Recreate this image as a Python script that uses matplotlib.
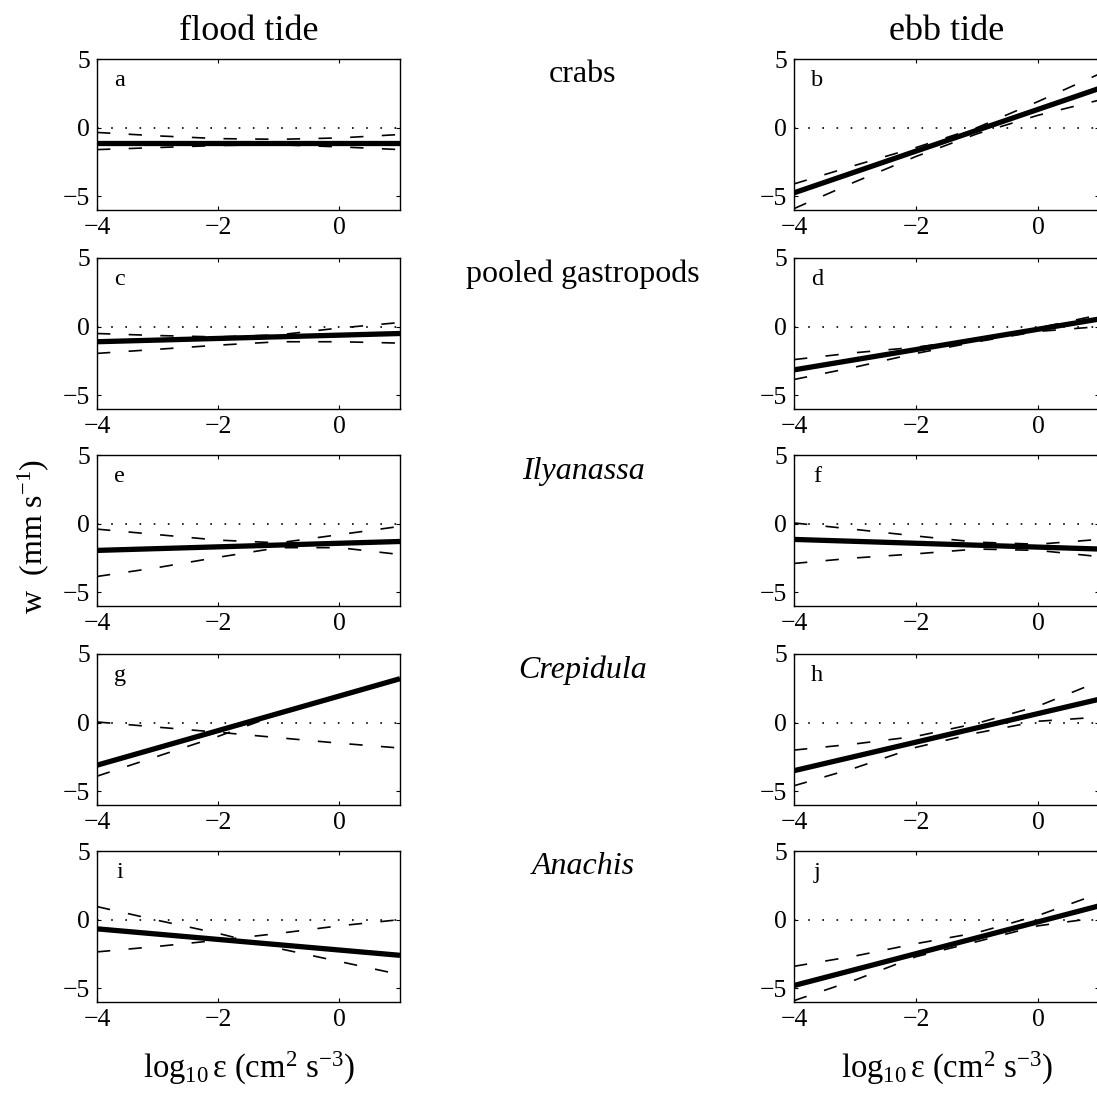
import matplotlib
matplotlib.use("Agg")
import matplotlib.pyplot as plt

plt.rcParams['font.family'] = ['Liberation Serif', 'DejaVu Serif']
plt.rcParams['mathtext.fontset'] = 'custom'
plt.rcParams['mathtext.rm'] = 'Liberation Serif'
plt.rcParams['mathtext.it'] = 'Liberation Serif:italic'

# ---------------- data ----------------
column_titles = ["flood tide", "ebb tide"]
species = ["crabs", "pooled gastropods", "Ilyanassa", "Crepidula", "Anachis"]
species_italic = [False, False, True, True, True]
letters_flood = ["a", "c", "e", "g", "i"]
letters_ebb = ["b", "d", "f", "h", "j"]

x_ends = [-4, 1]
x_band = [-4, -3, -2, -1, 0, 1]

# regression (solid) lines, value at x=-4 and x=1
fit_flood = [[-1.1, -1.1], [-1.1, -0.5], [-1.95, -1.3], [-3.1, 3.2], [-0.67, -2.6]]
fit_ebb = [[-4.75, 2.85], [-3.15, 0.55], [-1.15, -1.85], [-3.5, 1.7], [-4.8, 1.0]]

# dashed bounds, values at x_band
upper_flood = [
    [-0.35, -0.6, -0.8, -0.85, -0.75, -0.5],
    [-0.5, -0.65, -0.75, -0.6, -0.1, 0.3],
    [-0.4, -0.8, -1.2, -1.4, -0.8, -0.2],
    [0.05, -0.33, -0.7, -1.1, -1.5, -1.85],
    [0.95, -0.05, -1.0, -2.1, -3.05, -4.0],
]
lower_flood = [
    [-1.6, -1.45, -1.3, -1.25, -1.4, -1.6],
    [-1.95, -1.65, -1.35, -1.1, -1.1, -1.2],
    [-3.85, -3.2, -2.45, -1.75, -1.75, -2.25],
    [-3.9, -2.45, -1.0, 0.62, 1.9, 3.2],
    [-2.35, -1.95, -1.5, -1.0, -0.45, 0.0],
]
upper_ebb = [
    [-4.1, -2.75, -1.45, 0.0, 1.9, 3.9],
    [-2.4, -1.9, -1.5, -0.9, -0.1, 0.85],
    [0.05, -0.42, -0.9, -1.35, -1.5, -1.15],
    [-2.0, -1.55, -1.0, -0.05, 1.2, 3.0],
    [-3.4, -2.65, -1.75, -0.95, 0.3, 1.9],
]
lower_ebb = [
    [-5.9, -3.95, -2.1, -0.45, 0.9, 2.0],
    [-3.85, -2.95, -1.95, -1.1, -0.35, 0.0],
    [-2.9, -2.5, -2.2, -1.85, -1.95, -2.4],
    [-4.6, -3.3, -1.8, -0.75, 0.1, 0.4],
    [-5.9, -4.4, -2.7, -1.6, -0.45, 0.15],
]

xticks = [-4, -2, 0]
yticks = [-5, 0, 5]
xlim = (-4, 1)
ylim = (-6, 5)

# ---------------- layout ----------------
W, H = 1097, 1094
fig = plt.figure(figsize=(W / 100, H / 100), dpi=100)

row_tops = [59, 258, 455, 654, 851]
panel_h = 151
col_left = [97, 794]
col_w = [303, 305]

def make_ax(col, row):
    l = col_left[col] / W
    b = 1 - (row_tops[row] + panel_h) / H
    return fig.add_axes([l, b, col_w[col] / W, panel_h / H])

def draw(ax, fit, up, lo, letter):
    ax.plot(x_ends, [0, 0], color='black', lw=1.2, linestyle=(0, (1, 7.5)))
    ax.plot(x_band, up, color='black', lw=1.2, linestyle=(0, (8, 11)))
    ax.plot(x_band, lo, color='black', lw=1.2, linestyle=(0, (8, 11)))
    ax.plot(x_ends, fit, color='black', lw=3.8, solid_capstyle='butt')
    ax.set_xlim(*xlim)
    ax.set_ylim(*ylim)
    ax.set_xticks(xticks)
    ax.set_yticks(yticks)
    ax.set_xticklabels([str(t).replace('-', '\u2212') for t in xticks])
    ax.set_yticklabels([str(t).replace('-', '\u2212') for t in yticks])
    ax.tick_params(direction='in', length=3, width=0.8, top=True, right=True,
                   labelsize=18.5, pad=5)
    for s in ax.spines.values():
        s.set_linewidth(1.0)
    ax.text(0.075, 0.86, letter, transform=ax.transAxes, fontsize=17.5,
            ha='center', va='center')

xlabel = r'$\mathrm{log}_{10}\,\mathrm{\varepsilon}\ (\mathrm{cm}^{2}\ \mathrm{s}^{-3})$'

for r in range(5):
    axl = make_ax(0, r)
    draw(axl, fit_flood[r], upper_flood[r], lower_flood[r], letters_flood[r])
    axr = make_ax(1, r)
    draw(axr, fit_ebb[r], upper_ebb[r], lower_ebb[r], letters_ebb[r])
    if r == 0:
        axl.set_title(column_titles[0], fontsize=26, pad=14)
        axr.set_title(column_titles[1], fontsize=26, pad=14)
    if r == 4:
        axl.set_xlabel(xlabel, fontsize=23.5, labelpad=14)
        axr.set_xlabel(xlabel, fontsize=23.5, labelpad=14)
    fig.text(583 / W, 1 - (row_tops[r] + 16) / H, species[r], fontsize=23,
             ha='center', va='center', style='italic' if species_italic[r] else 'normal')

fig.text(33 / W, 1 - 536 / H, r'$\mathrm{w\ \ (mm\ s^{-1})}$', fontsize=23,
         rotation=90, ha='center', va='center')

fig.savefig('out.png', dpi=100)
